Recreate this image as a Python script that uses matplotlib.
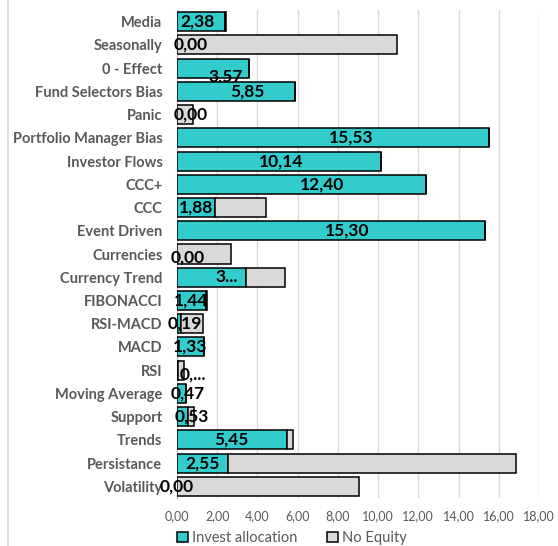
import matplotlib.pyplot as plt
from matplotlib.lines import Line2D
from matplotlib.ticker import FuncFormatter
import numpy as np

# =========================================================
# DATA
# =========================================================
categories = [
    "Media", "Seasonally", "0 - Effect", "Fund Selectors Bias", "Panic",
    "Portfolio Manager Bias", "Investor Flows", "CCC+", "CCC", "Event Driven",
    "Currencies", "Currency Trend", "FIBONACCI", "RSI-MACD", "MACD", "RSI",
    "Moving Average", "Support", "Trends", "Persistance", "Volatility",
]
invest = [2.38, 0.00, 3.57, 5.85, 0.00, 15.53, 10.14, 12.40, 1.88, 15.30,
          0.00, 3.45, 1.44, 0.19, 1.33, 0.04, 0.47, 0.53, 5.45, 2.55, 0.00]
no_equity = [0.05, 10.93, 0.00, 0.00, 0.78, 0.00, 0.00, 0.00, 2.55, 0.00,
             2.69, 1.92, 0.07, 1.09, 0.00, 0.30, 0.00, 0.30, 0.34, 14.30, 9.04]

labels = [f"{v:.2f}".replace(".", ",") for v in invest]
labels[11] = "3..."
labels[15] = "0,..."

# label nudges in pixels (dx, dy), mimics where Excel put them
label_offsets = [(-3, 0), (14, 0), (13, -8), (12, 0), (14, 0), (18, 0), (2, 0),
                 (20, 0), (0, 0), (16, 0), (11, -4), (15, 0), (0, 0), (6, 0),
                 (0, 0), (15, -4), (6, 0), (9, 0), (0, 0), (0, 0), (0, 0)]

TEAL = "#33CCCC"
GREY = "#D9D9D9"
TXT = "#595959"
FONT = "Lato"

# =========================================================
# FIGURE
# =========================================================
fig = plt.figure(figsize=(5.58, 5.46), dpi=100)
ax = fig.add_axes([177 / 558, 1 - 498 / 546, (539 - 177) / 558, 488 / 546])

y = np.arange(len(categories))
bh = 0.82
b1 = ax.barh(y, invest, height=bh, color=TEAL, edgecolor="black", linewidth=1.1)
b2 = ax.barh(y, no_equity, left=invest, height=bh, color=GREY,
             edgecolor="black", linewidth=1.1)

# later rows sit on top of earlier rows' labels (like the original)
for i in range(len(categories)):
    b1[i].set_zorder(10 + 2 * i)
    b2[i].set_zorder(10 + 2 * i)
    dx, dy = label_offsets[i]
    ax.annotate(labels[i], (invest[i] / 2, y[i]), xytext=(dx, dy),
                textcoords="offset pixels", ha="center", va="center",
                fontsize=12.5, fontweight="bold", color="black",
                family=FONT, zorder=11 + 2 * i)

ax.set_ylim(len(categories) - 0.5, -0.5)
ax.set_xlim(0, 18)
ax.set_xticks(np.arange(0, 19, 2))
ax.xaxis.set_major_formatter(FuncFormatter(lambda v, p: f"{v:.2f}".replace(".", ",")))
ax.set_yticks(y)
ax.set_yticklabels(categories)

for lab in ax.get_yticklabels():
    lab.set_fontfamily(FONT)
    lab.set_fontweight("bold")
    lab.set_fontsize(10.5)
    lab.set_color(TXT)
for lab in ax.get_xticklabels():
    lab.set_fontfamily(FONT)
    lab.set_fontsize(9)
    lab.set_color(TXT)

ax.tick_params(axis="y", length=0, pad=10.5)
ax.tick_params(axis="x", length=0, pad=9)
ax.grid(axis="x", color="#D9D9D9", linewidth=1)
ax.set_axisbelow(True)
for s in ["top", "right", "bottom"]:
    ax.spines[s].set_visible(False)
ax.spines["left"].set_color("#BFBFBF")
ax.spines["left"].set_zorder(5)

# chart-area border on the left
fig.add_artist(Line2D([7.5 / 558, 7.5 / 558], [0, 1], color="#D9D9D9", linewidth=1.2))

handles = [plt.Rectangle((0, 0), 1, 1, facecolor=TEAL, edgecolor="black", linewidth=1.1),
           plt.Rectangle((0, 0), 1, 1, facecolor=GREY, edgecolor="black", linewidth=1.1)]
fig.legend(handles, ["Invest allocation", "No Equity"], loc="center",
           bbox_to_anchor=(292 / 558, 1 - 538 / 546), ncol=2, frameon=False,
           handlelength=0.75, handleheight=0.75, handletextpad=0.3,
           columnspacing=2.0, prop={"family": FONT, "size": 10.5}, labelcolor=TXT)

fig.savefig("out.png", dpi=100)
